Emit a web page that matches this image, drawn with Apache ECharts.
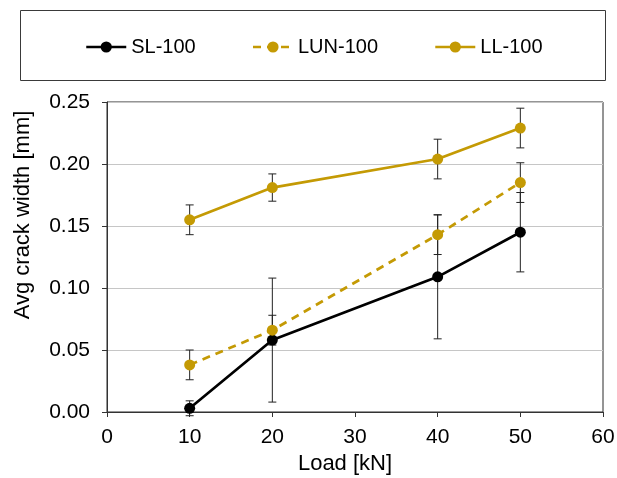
<!DOCTYPE html>
<html>
<head>
<meta charset="utf-8">
<script src="https://cdn.jsdelivr.net/npm/echarts@6/dist/echarts.min.js"></script>
<style>
  html, body { margin: 0; padding: 0; background: #fff; }
  #chart { width: 617px; height: 478px; }
</style>
</head>
<body>
<div id="chart"></div>
<script>
// Load steps (kN)
const loads = [10, 20, 40, 50];

// Average crack width (mm) and its spread for each specimen
const slMean  = [0.003, 0.058, 0.109, 0.145];
const slErr   = [0.006, 0.050, 0.050, 0.032];
const lunMean = [0.038, 0.066, 0.143, 0.185];
const lunErr  = [0.012, 0.012, 0.016, 0.016];
const llMean  = [0.155, 0.181, 0.204, 0.229];
const llErr   = [0.012, 0.011, 0.016, 0.016];

const seriesNames = ['SL-100', 'LUN-100', 'LL-100'];
const yTicks = [0, 0.05, 0.10, 0.15, 0.20, 0.25];

const GOLD = '#C49A04';
const FONT = 'Liberation Sans, Arial, sans-serif';

function pairs(xs, ys) { return xs.map((x, i) => [x, ys[i]]); }
function bars(xs, ys, es) { return xs.map((x, i) => [x, ys[i] - es[i], ys[i] + es[i]]); }

// Vertical error bar with short caps
function renderErrorBar(params, api) {
  const x = api.value(0);
  const lo = api.coord([x, api.value(1)]);
  const hi = api.coord([x, api.value(2)]);
  const half = 4;
  const style = { stroke: '#222', lineWidth: 1, fill: null };
  return {
    type: 'group',
    children: [
      { type: 'line', shape: { x1: lo[0], y1: lo[1], x2: hi[0], y2: hi[1] }, style },
      { type: 'line', shape: { x1: hi[0] - half, y1: hi[1], x2: hi[0] + half, y2: hi[1] }, style },
      { type: 'line', shape: { x1: lo[0] - half, y1: lo[1], x2: lo[0] + half, y2: lo[1] }, style }
    ]
  };
}

function errorSeries(data) {
  return {
    type: 'custom',
    renderItem: renderErrorBar,
    data: data,
    encode: { x: 0, y: [1, 2] },
    clip: false,
    z: 1,
    silent: true
  };
}

const chart = echarts.init(document.getElementById('chart'), null, { renderer: 'canvas' });

chart.setOption({
  animation: false,
  backgroundColor: '#fff',
  textStyle: { fontFamily: FONT },
  graphic: [{
    type: 'rect',
    shape: { x: 20.5, y: 10.5, width: 585, height: 70 },
    style: { fill: 'none', stroke: '#3a3a3a', lineWidth: 1 },
    z: -1
  }],
  legend: {
    data: seriesNames,
    left: 80,
    top: 32,
    itemGap: 56,
    itemWidth: 40,
    itemHeight: 14,
    lineStyle: { width: 2.5 },
    textStyle: { fontFamily: FONT, fontSize: 20, color: '#000', padding: [0, 0, 0, 0] }
  },
  grid: {
    left: 107, right: 14, top: 102, bottom: 66,
    outerBoundsMode: 'none',
    containLabel: false,
    show: true, borderColor: '#2a2a2a', borderWidth: 1, backgroundColor: 'transparent'
  },
  xAxis: {
    type: 'value',
    min: 0, max: 60, interval: 10,
    name: 'Load [kN]',
    nameLocation: 'middle',
    nameGap: 40,
    nameTextStyle: { fontFamily: FONT, fontSize: 22, color: '#000', padding: [0, 20, 0, 0] },
    axisLine: { show: true, onZero: false, lineStyle: { color: '#333', width: 1 } },
    axisTick: { show: true, length: 5, lineStyle: { color: '#333' } },
    axisLabel: { fontFamily: FONT, fontSize: 21, color: '#000', margin: 15 },
    splitLine: { show: false }
  },
  yAxis: {
    type: 'value',
    min: 0, max: 0.25, interval: 0.05,
    name: 'Avg crack width [mm]',
    nameLocation: 'middle',
    nameGap: 73,
    nameTextStyle: { fontFamily: FONT, fontSize: 22, color: '#000', padding: [0, 0, 0, 84] },
    axisLine: { show: true, lineStyle: { color: '#333', width: 1 } },
    axisTick: { show: true, length: 5, lineStyle: { color: '#333' } },
    axisLabel: {
      fontFamily: FONT, fontSize: 21, color: '#000', margin: 17,
      formatter: v => {
        const t = yTicks.find(k => Math.abs(k - v) < 1e-9);
        return (t === undefined ? v : t).toFixed(2);
      }
    },
    splitLine: { show: true, lineStyle: { color: '#c6c6c6', width: 1 } }
  },
  series: [
    errorSeries(bars(loads, slMean, slErr)),
    errorSeries(bars(loads, lunMean, lunErr)),
    errorSeries(bars(loads, llMean, llErr)),
    {
      name: seriesNames[0], type: 'line', data: pairs(loads, slMean),
      symbol: 'circle', symbolSize: 11, z: 3,
      lineStyle: { color: '#000', width: 2.7 },
      itemStyle: { color: '#000' }
    },
    {
      name: seriesNames[1], type: 'line', data: pairs(loads, lunMean),
      symbol: 'circle', symbolSize: 11, z: 3,
      lineStyle: { color: GOLD, width: 2.7, type: [8, 6] },
      itemStyle: { color: GOLD }
    },
    {
      name: seriesNames[2], type: 'line', data: pairs(loads, llMean),
      symbol: 'circle', symbolSize: 11, z: 3,
      lineStyle: { color: GOLD, width: 2.7 },
      itemStyle: { color: GOLD }
    }
  ]
});
</script>
</body>
</html>
